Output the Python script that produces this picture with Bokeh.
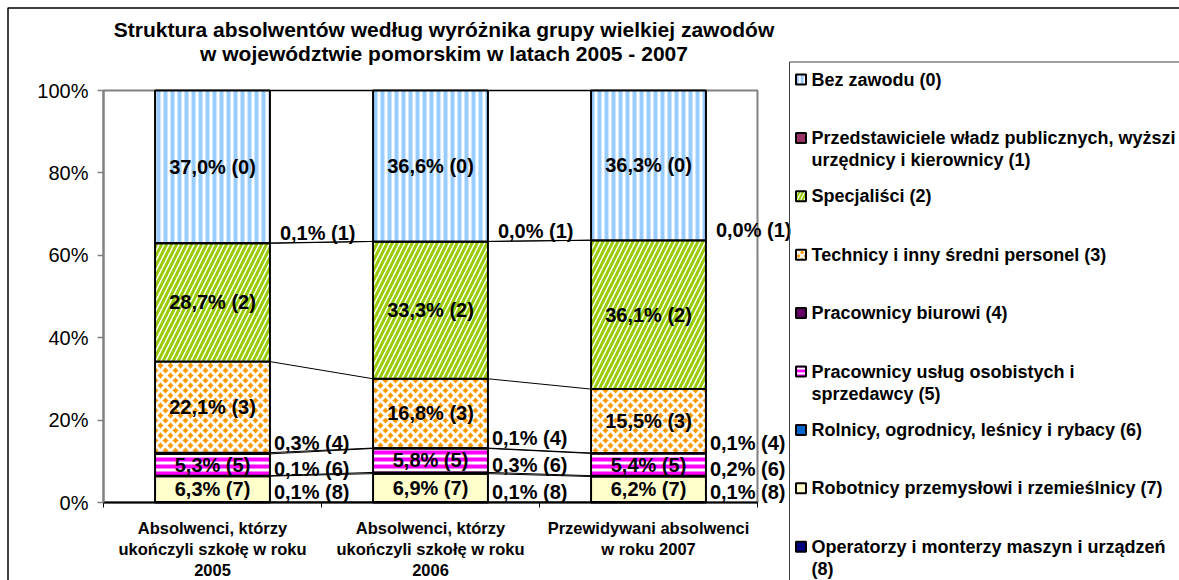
import numpy as np
from bokeh.plotting import figure
from bokeh.models import ColumnDataSource, FixedTicker, Label, BoxAnnotation, Range1d
from bokeh.embed import file_html
from bokeh.resources import INLINE
from bokeh.core.properties import value

# ---------------- data ----------------
categories = [
    "Absolwenci, którzy\nukończyli szkołę w roku\n2005",
    "Absolwenci, którzy\nukończyli szkołę w roku\n2006",
    "Przewidywani absolwenci\nw roku 2007",
]
series_names = [
    "Bez zawodu (0)",
    "Przedstawiciele władz publicznych, wyższi\nurzędnicy i kierownicy (1)",
    "Specjaliści (2)",
    "Technicy i inny średni personel (3)",
    "Pracownicy biurowi (4)",
    "Pracownicy usług osobistych i\nsprzedawcy (5)",
    "Rolnicy, ogrodnicy, leśnicy i rybacy (6)",
    "Robotnicy przemysłowi i rzemieślnicy (7)",
    "Operatorzy i monterzy maszyn i urządzeń\n(8)",
]
s0 = [37.0, 36.6, 36.3]
s1 = [0.1, 0.0, 0.0]
s2 = [28.7, 33.3, 36.1]
s3 = [22.1, 16.8, 15.5]
s4 = [0.3, 0.1, 0.1]
s5 = [5.3, 5.8, 5.4]
s6 = [0.1, 0.3, 0.2]
s7 = [6.3, 6.9, 6.2]
s8 = [0.1, 0.1, 0.1]
y_ticks = [0, 20, 40, 60, 80, 100]
title_lines = [
    "Struktura absolwentów według wyróżnika grupy wielkiej zawodów",
    "w województwie pomorskim w latach 2005 - 2007",
]

series = [s0, s1, s2, s3, s4, s5, s6, s7, s8]

# ---------------- styles / layout ----------------
FONT = "Liberation Sans"
styles = [
    dict(fill_color="white", hatch_pattern="vertical_line", hatch_color="#99CCFF", hatch_scale=7, hatch_weight=4),
    dict(fill_color="#993366"),
    dict(fill_color="white", hatch_pattern="right_diagonal_line", hatch_color="#99CC00", hatch_scale=10, hatch_weight=3),
    dict(fill_color="#FF9900", hatch_pattern="diagonal_cross", hatch_color="white", hatch_scale=10, hatch_weight=3),
    dict(fill_color="#660066"),
    dict(fill_color="white", hatch_pattern="horizontal_line", hatch_color="#FF00FF", hatch_scale=7, hatch_weight=4),
    dict(fill_color="#0066CC"),
    dict(fill_color="#FFFFCC"),
    dict(fill_color="#000080"),
]

W, H = 1179, 580
PL, PR, PT, PB = 103, 757, 90, 502          # plot area in pixels
ncat = len(categories)
xpx = (PR - PL) / ncat                       # px per category unit
ypx = (PB - PT) / 100.0                      # px per percent

def sy(py):
    return H - py

p = figure(width=W, height=H, output_backend="svg", toolbar_location=None, title=None,
           x_range=Range1d(-PL / xpx, (W - PL) / xpx),
           y_range=Range1d(-(H - PB) / ypx, 100 + PT / ypx),
           min_border=0, min_border_left=0, min_border_right=0, min_border_top=0, min_border_bottom=0)
p.xgrid.visible = False
p.ygrid.visible = False
p.background_fill_color = "white"
p.border_fill_color = "white"
p.outline_line_color = None

xs = np.arange(ncat) + 0.5
bar_w = 0.527

# plot-area border (gray)
p.quad(left=[0], right=[ncat], bottom=[y_ticks[0]], top=[y_ticks[-1]], fill_color=None,
       line_color="#808080", line_width=2)

vals = np.array(series, dtype=float)  # shape (9, 3)
totals = vals.sum(axis=0)
norm = vals / totals * 100.0
order = list(range(len(series) - 1, -1, -1))  # (8) at bottom ... (0) on top
bottoms, tops = {}, {}
cum = np.zeros(ncat)
for k in order:
    bottoms[k] = cum.copy()
    cum = cum + norm[k]
    tops[k] = cum.copy()

# series lines
x0s, y0s, x1s, y1s = [], [], [], []
for k in order:
    for i in range(ncat - 1):
        x0s.append(xs[i] + bar_w / 2); y0s.append(tops[k][i])
        x1s.append(xs[i + 1] - bar_w / 2); y1s.append(tops[k][i + 1])
p.segment(x0=x0s, y0=y0s, x1=x1s, y1=y1s, line_color="black", line_width=1)

for k in order:
    src = ColumnDataSource(dict(x=xs, bottom=bottoms[k], top=tops[k]))
    p.vbar(x="x", width=bar_w, bottom="bottom", top="top", source=src,
           line_color="black", line_width=2, **styles[k])

def fmt(v, k):
    return f"{v:.1f}".replace(".", ",") + f"% ({k})"

in_x, in_y, in_t = [], [], []
out = dict(x=[], y=[], text=[], dx=[], dy=[])
for k in range(len(series)):
    for i in range(ncat):
        v = series[k][i]
        if v >= 3:
            in_x.append(xs[i]); in_y.append((bottoms[k][i] + tops[k][i]) / 2); in_t.append(fmt(v, k))
        else:
            out["x"].append(xs[i] + bar_w / 2); out["y"].append(tops[k][i]); out["text"].append(fmt(v, k))
            out["dx"].append(10 if k == 1 else 4); out["dy"].append(-7 if k == 6 else -10)
p.text(x=in_x, y=in_y, text=in_t, text_align="center", text_baseline="middle",
       text_font=value(FONT), text_font_style="bold", text_font_size="20px", text_color="black")
p.text(x="x", y="y", text="text", source=ColumnDataSource(out), text_align="left", text_baseline="middle",
       x_offset="dx", y_offset="dy",
       text_font=value(FONT), text_font_style="bold", text_font_size="20px", text_color="black")

# axes (fixed inside the full-canvas frame)
yax = p.yaxis[0]
yax.fixed_location = 0
yax.bounds = (y_ticks[0], y_ticks[-1])
yax.ticker = FixedTicker(ticks=y_ticks)
yax.major_label_overrides = {t: f"{t}%" for t in y_ticks}
yax.axis_line_color = "#808080"
yax.axis_line_width = 2
yax.major_tick_line_color = "#808080"
yax.major_tick_line_width = 1.5
yax.major_tick_out = 6
yax.major_tick_in = 0
yax.minor_tick_line_color = None
yax.major_label_text_font = FONT
yax.major_label_text_font_size = "20px"
yax.major_label_text_color = "black"
yax.major_label_standoff = 9

xax = p.xaxis[0]
xax.fixed_location = 0
xax.bounds = (0, ncat)
xax.ticker = FixedTicker(ticks=list(xs), minor_ticks=list(range(ncat + 1)))
xax.major_label_overrides = {float(x): c for x, c in zip(xs, categories)}
xax.axis_line_color = "black"
xax.axis_line_width = 2
xax.major_tick_line_color = None
xax.major_tick_out = 0
xax.major_tick_in = 0
xax.minor_tick_line_color = "black"
xax.minor_tick_out = 5
xax.minor_tick_in = 0
xax.major_label_text_font = FONT
xax.major_label_text_font_style = "bold"
xax.major_label_text_font_size = "16.5px"
xax.major_label_text_line_height = 1.19
xax.major_label_text_color = "black"
xax.major_label_standoff = 11

# title
for t, ty in zip(title_lines, [29, 53]):
    p.add_layout(Label(x=443.5, y=sy(ty), x_units="screen", y_units="screen", text=t,
                       text_align="center", text_baseline="middle", text_font=FONT,
                       text_font_style="bold", text_font_size="21px", text_color="black"))

# chart border
scr = dict(left_units="screen", right_units="screen", top_units="screen", bottom_units="screen")
p.add_layout(BoxAnnotation(left=7.5, right=W + 50, top=sy(7.5), bottom=-50, fill_alpha=0,
                           line_color="black", line_width=1.5, line_alpha=1, **scr))

# legend
p.add_layout(BoxAnnotation(left=789, right=W + 50, top=sy(61.5), bottom=-50, fill_alpha=0,
                           line_color="#404040", line_width=1, line_alpha=1, **scr))
for k, name in enumerate(series_names):
    yc = 79 + 58.4 * k
    st = styles[k]
    hs = {}
    if "hatch_pattern" in st:
        hs = dict(hatch_pattern=st["hatch_pattern"], hatch_color=st["hatch_color"],
                  hatch_scale=st["hatch_scale"] * 0.7, hatch_weight=st["hatch_weight"] * 0.7, hatch_alpha=1)
    p.add_layout(BoxAnnotation(left=795.5, right=805.5, top=sy(yc - 5), bottom=sy(yc + 5),
                               fill_color=st["fill_color"], fill_alpha=1, line_color="black", line_width=2,
                               line_alpha=1, **scr, **hs))
    for j, line in enumerate(name.split("\n")):
        p.add_layout(Label(x=811, y=sy(yc + 22.5 * j), x_units="screen", y_units="screen", text=line,
                           text_align="left", text_baseline="middle", text_font=FONT,
                           text_font_style="bold", text_font_size="18px", text_color="black"))

open("out.html", "w").write(file_html(p, INLINE))
